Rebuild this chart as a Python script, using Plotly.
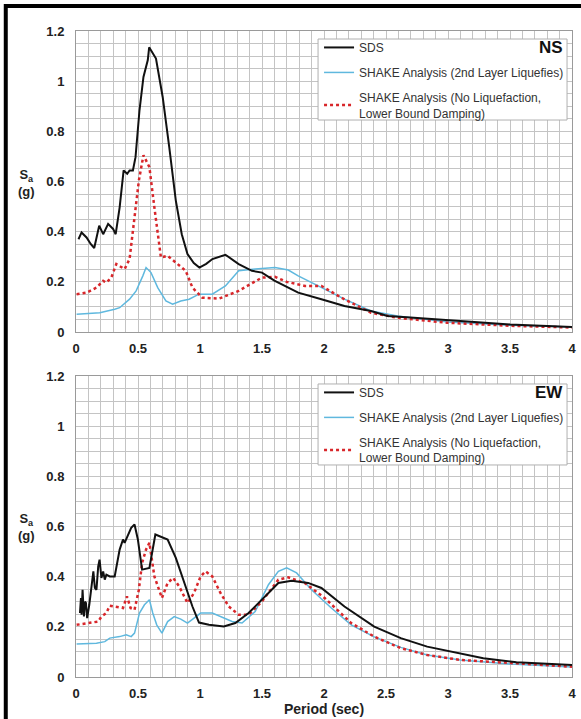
import plotly.graph_objects as go
from plotly.subplots import make_subplots

# ---- NS component -------------------------------------------------------
ns_sds_t = [0.02, 0.045, 0.085, 0.12, 0.147, 0.187, 0.219, 0.259, 0.299, 0.32,
            0.352, 0.384, 0.413, 0.432, 0.459, 0.48, 0.512, 0.544, 0.579, 0.59,
            0.645, 0.699, 0.752, 0.805, 0.853, 0.899, 0.95, 0.995, 1.05, 1.1,
            1.205, 1.312, 1.419, 1.5, 1.6, 1.712, 1.792, 1.979, 2.165, 2.379,
            2.512, 2.725, 3.0, 3.5, 4.0]
ns_sds_sa = [0.37, 0.397, 0.377, 0.35, 0.335, 0.424, 0.39, 0.431, 0.411, 0.39,
             0.497, 0.644, 0.631, 0.644, 0.644, 0.697, 0.884, 1.017, 1.084, 1.135,
             1.09, 0.937, 0.737, 0.524, 0.39, 0.311, 0.275, 0.257, 0.272, 0.291,
             0.308, 0.271, 0.244, 0.237, 0.205, 0.175, 0.157, 0.131, 0.104, 0.084,
             0.064, 0.057, 0.047, 0.03, 0.02]

ns_liq_t = [0.005, 0.192, 0.312, 0.352, 0.432, 0.485, 0.539, 0.565, 0.605, 0.659,
            0.725, 0.779, 0.845, 0.912, 0.992, 1.099, 1.205, 1.312, 1.445, 1.605,
            1.712, 1.792, 1.925, 2.165, 2.379, 2.592, 3.0, 3.5, 4.0]
ns_liq_sa = [0.071, 0.077, 0.091, 0.097, 0.131, 0.164, 0.224, 0.257, 0.237, 0.177,
             0.124, 0.111, 0.124, 0.131, 0.151, 0.151, 0.184, 0.244, 0.251, 0.257,
             0.247, 0.224, 0.191, 0.131, 0.084, 0.064, 0.04, 0.027, 0.02]

ns_noliq_t = [0.005, 0.085, 0.165, 0.219, 0.245, 0.285, 0.325, 0.365, 0.392, 0.432,
              0.472, 0.507, 0.544, 0.592, 0.632, 0.685, 0.739, 0.805, 0.885, 0.939,
              1.019, 1.152, 1.312, 1.499, 1.605, 1.7, 1.845, 1.979, 2.139, 2.379,
              2.592, 2.992, 3.5, 4.0]
ns_noliq_sa = [0.151, 0.157, 0.177, 0.204, 0.197, 0.217, 0.271, 0.257, 0.251, 0.291,
               0.471, 0.604, 0.705, 0.657, 0.497, 0.297, 0.304, 0.277, 0.244, 0.177,
               0.137, 0.133, 0.164, 0.217, 0.22, 0.2, 0.184, 0.184, 0.137, 0.077,
               0.057, 0.037, 0.025, 0.018]

# ---- EW component -------------------------------------------------------
ew_sds_t = [0.032, 0.04, 0.045, 0.053, 0.064, 0.072, 0.08, 0.09, 0.107, 0.125,
            0.14, 0.152, 0.165, 0.179, 0.19, 0.205, 0.219, 0.232, 0.245, 0.272,
            0.312, 0.352, 0.379, 0.392, 0.419, 0.445, 0.472, 0.499, 0.533, 0.592,
            0.64, 0.685, 0.739, 0.805, 0.872, 0.939, 0.992, 1.072, 1.192, 1.285,
            1.392, 1.499, 1.632, 1.739, 1.872, 1.979, 2.165, 2.405, 2.619, 2.832,
            3.019, 3.285, 3.552, 4.0]
ew_sds_sa = [0.255, 0.315, 0.248, 0.348, 0.241, 0.3, 0.295, 0.235, 0.288, 0.375,
             0.421, 0.355, 0.348, 0.441, 0.468, 0.395, 0.421, 0.388, 0.408, 0.401,
             0.401, 0.508, 0.548, 0.535, 0.568, 0.595, 0.608, 0.548, 0.428, 0.435,
             0.568, 0.559, 0.548, 0.475, 0.375, 0.281, 0.217, 0.208, 0.201, 0.215,
             0.255, 0.308, 0.375, 0.384, 0.375, 0.355, 0.281, 0.201, 0.155, 0.121,
             0.101, 0.075, 0.059, 0.048]

ew_liq_t = [0.005, 0.165, 0.232, 0.272, 0.352, 0.405, 0.445, 0.472, 0.512, 0.552,
            0.592, 0.619, 0.651, 0.693, 0.739, 0.792, 0.845, 0.899, 0.952, 1.005,
            1.099, 1.179, 1.259, 1.339, 1.445, 1.552, 1.632, 1.699, 1.779, 1.899,
            2.059, 2.219, 2.405, 2.619, 2.832, 3.099, 3.5, 4.0]
ew_liq_sa = [0.132, 0.135, 0.141, 0.155, 0.161, 0.168, 0.161, 0.175, 0.255, 0.288,
             0.308, 0.255, 0.208, 0.175, 0.221, 0.241, 0.231, 0.215, 0.235, 0.255,
             0.255, 0.239, 0.221, 0.215, 0.261, 0.368, 0.421, 0.435, 0.415, 0.348,
             0.275, 0.208, 0.16, 0.118, 0.088, 0.068, 0.052, 0.04]

ew_noliq_t = [0.005, 0.112, 0.179, 0.205, 0.245, 0.272, 0.325, 0.379, 0.411, 0.44,
              0.472, 0.507, 0.533, 0.565, 0.592, 0.632, 0.693, 0.739, 0.784, 0.832,
              0.899, 0.952, 1.005, 1.045, 1.099, 1.165, 1.232, 1.312, 1.392, 1.499,
              1.632, 1.712, 1.845, 2.005, 2.219, 2.405, 2.619, 2.832, 3.099, 3.499,
              4.0]
ew_noliq_sa = [0.208, 0.215, 0.221, 0.241, 0.255, 0.284, 0.281, 0.275, 0.321, 0.275,
               0.268, 0.348, 0.455, 0.508, 0.535, 0.401, 0.315, 0.375, 0.395, 0.361,
               0.295, 0.335, 0.401, 0.421, 0.401, 0.335, 0.281, 0.248, 0.248, 0.301,
               0.388, 0.397, 0.375, 0.315, 0.215, 0.161, 0.115, 0.088, 0.068, 0.055,
               0.041]

series_names = ["SDS",
                "SHAKE Analysis (2nd Layer Liquefies)",
                "SHAKE Analysis (No Liquefaction,<br>Lower Bound Damping)"]
panel_labels = ["NS", "EW"]
x_ticks = [0, 0.5, 1, 1.5, 2, 2.5, 3, 3.5, 4]
y_ticks = [0, 0.2, 0.4, 0.6, 0.8, 1, 1.2]

FONT = "Liberation Sans, Arial, sans-serif"
styles = [dict(color="#111111", width=2, dash="solid"),
          dict(color="#5fb8de", width=1.5, dash="solid"),
          dict(color="#d8262a", width=2.5, dash="dot")]

fig = make_subplots(rows=2, cols=1, vertical_spacing=0.068)

panels = [
    [(ns_sds_t, ns_sds_sa), (ns_liq_t, ns_liq_sa), (ns_noliq_t, ns_noliq_sa)],
    [(ew_sds_t, ew_sds_sa), (ew_liq_t, ew_liq_sa), (ew_noliq_t, ew_noliq_sa)],
]
# draw order: SHAKE curves under SDS
draw_order = [1, 2, 0]
legend_ids = ["legend", "legend2"]
for r, panel in enumerate(panels, start=1):
    for i in draw_order:
        t, sa = panel[i]
        fig.add_trace(go.Scatter(
            x=t, y=sa, mode="lines", name=series_names[i],
            line=dict(color=styles[i]["color"], width=styles[i]["width"],
                      dash=styles[i]["dash"]),
            legend=legend_ids[r - 1], legendgroup=f"g{r}{i}",
            legendrank=i + 1, showlegend=True,
        ), row=r, col=1)

axis_common = dict(
    showline=True, linecolor="#9a9a9a", linewidth=1, mirror=True,
    showgrid=True, gridcolor="#c4c4c4", gridwidth=1, zeroline=False,
    ticks="", tickfont=dict(family=FONT, size=13, color="#222222", weight="bold"),
)
for r in (1, 2):
    fig.update_xaxes(range=[0, 4], tickvals=x_ticks, ticklabelstandoff=4,
                     minor=dict(dtick=0.1, showgrid=True, gridcolor="#c4c4c4",
                                gridwidth=1, ticks=""),
                     **axis_common, row=r, col=1)
    fig.update_yaxes(range=[0, 1.2], tickvals=y_ticks, ticklabelstandoff=8,
                     minor=dict(dtick=0.05, showgrid=True, gridcolor="#c4c4c4",
                                gridwidth=1, ticks=""),
                     **axis_common, row=r, col=1)

fig.update_xaxes(title=dict(text="Period (sec)", standoff=4,
                            font=dict(family=FONT, size=14, color="#222222",
                                      weight="bold")), row=2, col=1)

# legend entries sit on their own white boxes (drawn as shapes below)
legend_style = dict(
    x=0.49, xanchor="left", yanchor="top",
    bgcolor="rgba(0,0,0,0)", borderwidth=0,
    font=dict(family=FONT, size=12, color="#333333"),
    tracegroupgap=6, traceorder="grouped", itemwidth=30,
)
fig.update_layout(
    width=581, height=719,
    margin=dict(l=76, r=5, t=31, b=42),
    paper_bgcolor="white", plot_bgcolor="white",
    font=dict(family=FONT),
    legend=dict(y=0.997, **legend_style),
    legend2=dict(y=0.463, **legend_style),
    showlegend=True,
)

# legend boxes
box_y = [(0.8622, 0.9876), (0.3282, 0.4536)]
for y0, y1 in box_y:
    fig.add_shape(type="rect", xref="paper", yref="paper",
                  x0=0.488, x1=0.99, y0=y0, y1=y1,
                  line=dict(color="#b0b0b0", width=1), fillcolor="white",
                  layer="above")

# panel tags and y-axis labels
tag_y = [0.975, 0.441]
label_y = [0.765, 0.232]
for k in range(2):
    fig.add_annotation(xref="paper", yref="paper", x=0.985, y=tag_y[k],
                       xanchor="right", yanchor="middle", showarrow=False,
                       text=f"<b>{panel_labels[k]}</b>",
                       font=dict(family=FONT, size=17, color="#111111"))
    fig.add_annotation(xref="paper", yref="paper", x=-0.1, y=label_y[k],
                       xanchor="center", yanchor="middle", showarrow=False,
                       text="<b>S<sub>a</sub><br>(g)</b>",
                       font=dict(family=FONT, size=13, color="#222222"))

# outer frame (left and top edges fall inside the page)
fig.add_shape(type="rect", xref="paper", yref="paper",
              x0=-0.1416, x1=1.03, y0=-0.08, y1=1.0387,
              line=dict(color="black", width=4), fillcolor="rgba(0,0,0,0)",
              layer="above")

fig.write_html("out.html")
